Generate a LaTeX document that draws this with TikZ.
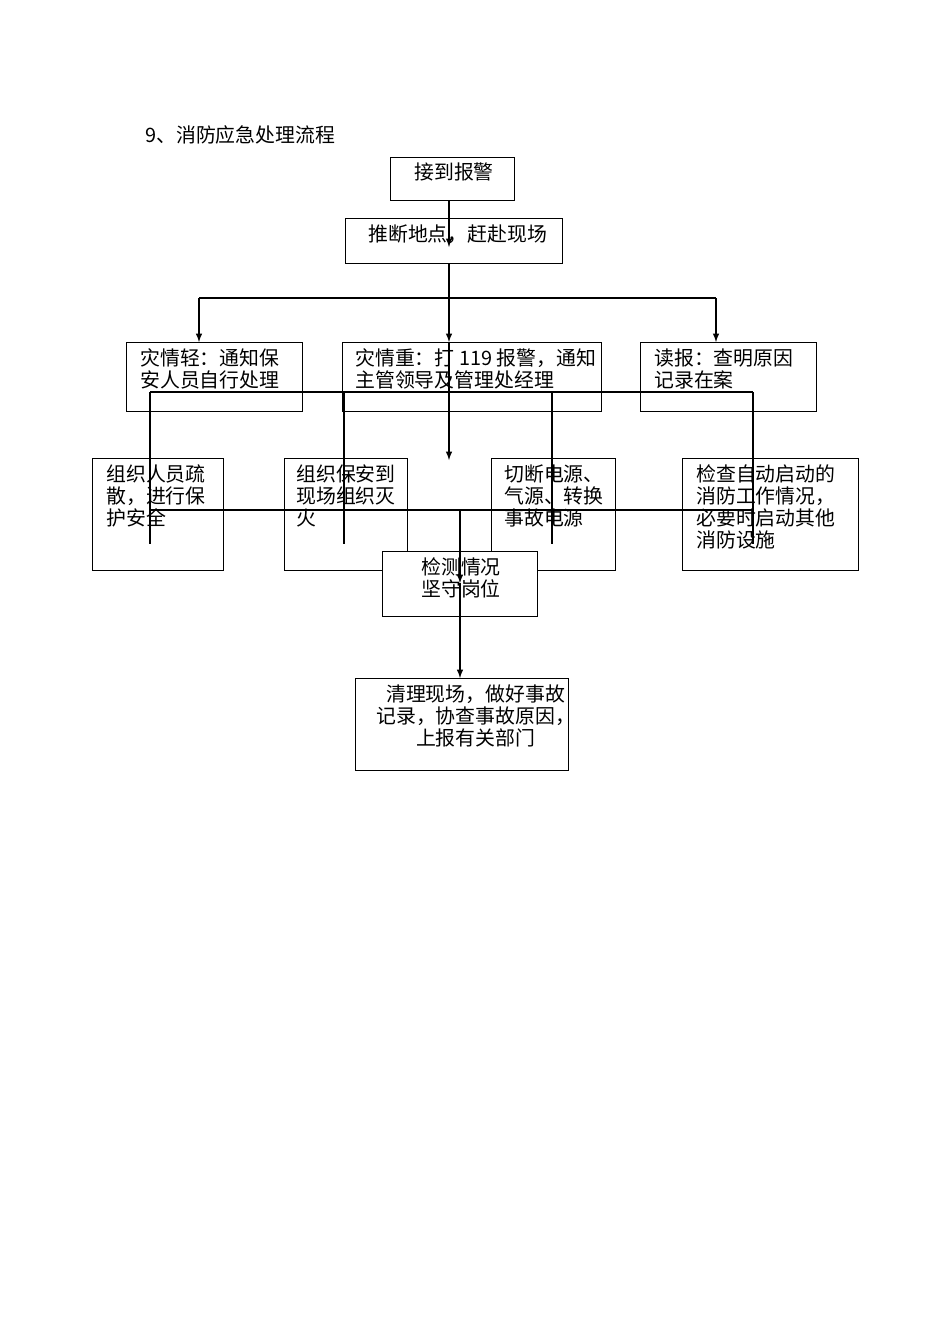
\documentclass[tikz,border=0pt]{standalone}
\usepackage{fontspec}
\setmainfont{Noto Sans CJK SC}
\usetikzlibrary{positioning}
\tikzset{
  box/.style={draw,thick,rectangle,anchor=north west,inner sep=0pt},
  txt/.style={anchor=north west,align=left,inner sep=0pt,font=\fontsize{12.5}{14}\selectfont},
  line/.style={thick},
  arr/.style={thick,-latex}
}
\begin{document}
\begin{tikzpicture}[x=0.02211cm,y=-0.02211cm]
	\useasboundingbox (0,0) rectangle (950,1344);
	
		\node[txt] (title) at (145,125) {9、消防应急处理流程};
		
		\node[box,minimum width=124*0.02211cm,minimum height=43*0.02211cm] (jie) at (390,157) {};
		\node[txt] at (414,162) {接到报警};
		\node[box,minimum width=217*0.02211cm,minimum height=45*0.02211cm] (tui) at (345,218) {};
		\node[txt] at (368,224) {推断地点，赶赴现场};
		
		\node[box,minimum width=176*0.02211cm,minimum height=69*0.02211cm] (qing) at (126,342) {};
		\node[txt] at (140,348) {灾情轻：通知保\\安人员自行处理};
		\node[box,minimum width=259*0.02211cm,minimum height=69*0.02211cm] (zhong) at (342,342) {};
		\node[txt] at (355,348) {灾情重：打 119 报警，通知\\主管领导及管理处经理};
		\node[box,minimum width=176*0.02211cm,minimum height=69*0.02211cm] (du) at (640,342) {};
		\node[txt] at (654,348) {读报：查明原因\\记录在案};
		
		\node[box,minimum width=131*0.02211cm,minimum height=112*0.02211cm] (shu) at (92,458) {};
		\node[txt] at (106,464) {组织人员疏\\散，进行保\\护安全};
		\node[box,minimum width=123*0.02211cm,minimum height=112*0.02211cm] (mie) at (284,458) {};
		\node[txt] at (296,464) {组织保安到\\现场组织灭\\火};
		\node[box,minimum width=124*0.02211cm,minimum height=112*0.02211cm] (duan) at (491,458) {};
		\node[txt] at (504,464) {切断电源、\\气源、转换\\事故电源};
		\node[box,minimum width=176*0.02211cm,minimum height=112*0.02211cm] (jian) at (682,458) {};
		\node[txt] at (696,464) {检查自动启动的\\消防工作情况，\\必要时启动其他\\消防设施};
		
		\node[box,fill=white,minimum width=155*0.02211cm,minimum height=65*0.02211cm] (ce) at (382,551) {};
		\node[txt,align=center] at (421,557) {检测情况\\坚守岗位};
		\node[box,minimum width=213*0.02211cm,minimum height=92*0.02211cm] (qingli) at (355,678) {};
		\node[txt,align=center] at (376,684) {清理现场，做好事故\\记录，协查事故原因，\\上报有关部门};
		
		\coordinate (t1) at (449,200);
		\coordinate (t2) at (449,247);
		\coordinate (s0) at (449,263);
		\coordinate (s1) at (449,298);
		\coordinate (sl) at (199,298);
		\coordinate (sr) at (716,298);
		\coordinate (m1) at (449,460);
		\coordinate (h1) at (150,392);
		\coordinate (h2) at (753,392);
		\coordinate (g1) at (150,510);
		\coordinate (g2) at (753,510);
		\coordinate (c0) at (460,510);
		\coordinate (c1) at (460,583);
		
		\draw[arr] (t1) -- (t2);
		\draw[line] (s0) -- (s1);
		\draw[line] (sl) -- (sr);
		\draw[arr] (sl) -- (sl |- qing.north);
		\draw[arr] (s1) -- (s1 |- zhong.north);
		\draw[arr] (sr) -- (sr |- du.north);
		\draw[arr] (s1 |- zhong.north) -- (m1);
		
		\draw[line] (h1) -- (h2);
		\foreach \x in {150,344,552,753}
			\draw[line] (\x,392) -- (\x,544);
		\draw[line] (g1) -- (g2);
		\draw[arr] (c0) -- (c1);
		\draw[arr] (c1) -- (c1 |- qingli.north);
		
	\end{tikzpicture}
\end{document}
